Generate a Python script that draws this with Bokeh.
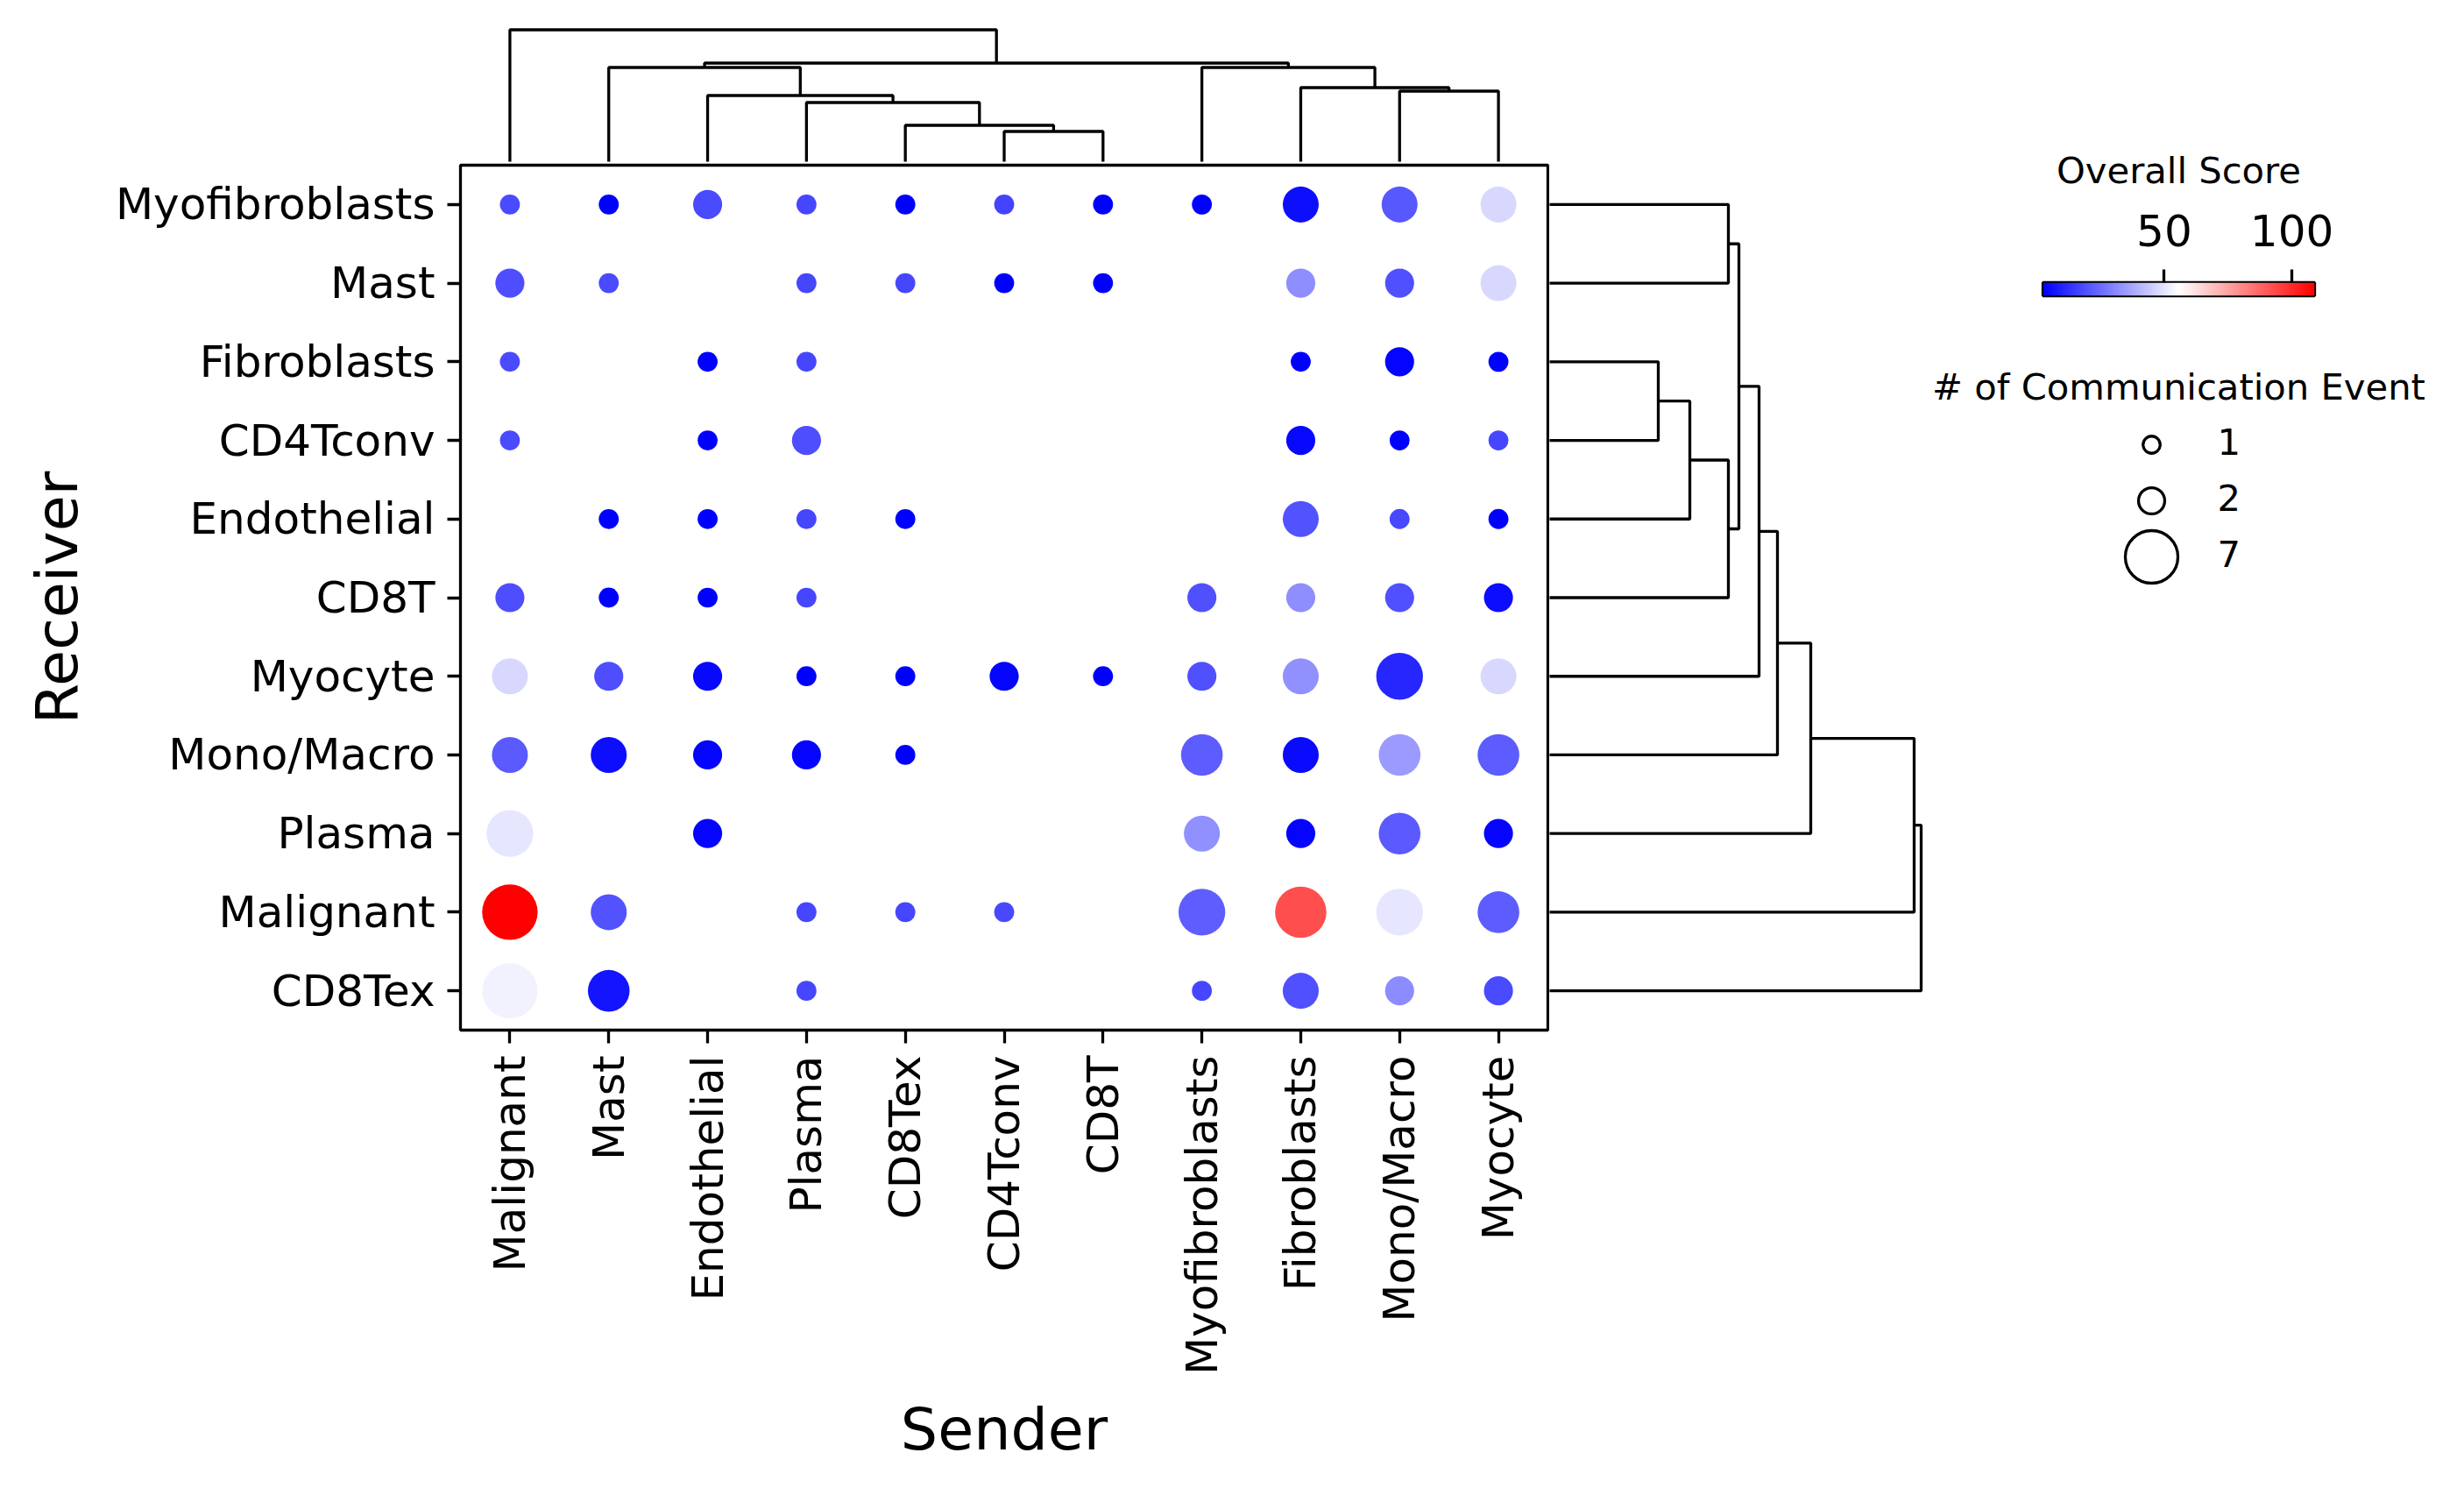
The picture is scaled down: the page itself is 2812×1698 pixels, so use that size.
import math
import numpy as np
from bokeh.plotting import figure
from bokeh.models import (ColumnDataSource, FactorRange, Range1d, LinearColorMapper,
                          LinearAxis, FixedTicker, Spacer)
from bokeh.core.properties import value
from bokeh.layouts import row, column
from bokeh.transform import transform
from bokeh.embed import file_html
from bokeh.resources import INLINE

FONT = "DejaVu Sans"

# ---------------- data ----------------
senders = ["Malignant", "Mast", "Endothelial", "Plasma", "CD8Tex", "CD4Tconv",
           "CD8T", "Myofibroblasts", "Fibroblasts", "Mono/Macro", "Myocyte"]
receivers = ["Myofibroblasts", "Mast", "Fibroblasts", "CD4Tconv", "Endothelial",
             "CD8T", "Myocyte", "Mono/Macro", "Plasma", "Malignant", "CD8Tex"]

# rows = receivers (top to bottom), columns = senders
overall_score = [
    [18.1, 2.5, 18.0, 17.1, 2.7, 17.0, 2.6, 2.8, 5.6, 20.9, 47.4],          # Myofibroblasts
    [18.8, 18.1, None, 17.1, 17.1, 2.6, 2.6, None, 32.3, 19.2, 47.4],       # Mast
    [18.1, None, 2.7, 17.1, None, None, None, None, 2.6, 3.5, 2.7],         # Fibroblasts
    [18.1, None, 2.6, 18.8, None, None, None, None, 4.2, 2.6, 17.1],        # CD4Tconv
    [None, 2.6, 2.6, 17.1, 2.6, None, None, None, 19.6, 17.5, 2.7],         # Endothelial
    [18.8, 2.6, 2.7, 17.1, None, None, None, 19.2, 32.3, 19.2, 5.0],        # CD8T
    [47.4, 18.8, 4.2, 2.6, 2.7, 3.5, 2.6, 19.2, 32.8, 10.4, 47.4],          # Myocyte
    [21.3, 5.6, 3.5, 3.5, 2.6, None, None, 21.7, 4.6, 34.8, 21.7],          # Mono/Macro
    [50.5, None, 3.5, None, None, None, None, 32.8, 3.5, 21.3, 3.5],        # Plasma
    [108.9, 19.6, None, 17.1, 17.1, 17.5, None, 22.3, 92.6, 50.5, 21.7],    # Malignant
    [53.0, 6.7, None, 17.1, None, None, None, 17.1, 19.2, 31.7, 18.1],      # CD8Tex
]
n_events = [
    [1, 1, 2, 1, 1, 1, 1, 1, 3, 3, 3],
    [2, 1, 0, 1, 1, 1, 1, 0, 2, 2, 3],
    [1, 0, 1, 1, 0, 0, 0, 0, 1, 2, 1],
    [1, 0, 1, 2, 0, 0, 0, 0, 2, 1, 1],
    [0, 1, 1, 1, 1, 0, 0, 0, 3, 1, 1],
    [2, 1, 1, 1, 0, 0, 0, 2, 2, 2, 2],
    [3, 2, 2, 1, 1, 2, 1, 2, 3, 5, 3],
    [3, 3, 2, 2, 1, 0, 0, 4, 3, 4, 4],
    [5, 0, 2, 0, 0, 0, 0, 3, 2, 4, 2],
    [7, 3, 0, 1, 1, 1, 0, 5, 6, 5, 4],
    [7, 4, 0, 1, 0, 0, 0, 1, 3, 2, 2],
]
legend_events = [1, 2, 7]
cbar_ticks = [50, 100]

# dendrogram merges: (child, child, height); ints refer to earlier merges
col_links = [
    ("CD4Tconv", "CD8T", 34.5),
    ("CD8Tex", 0, 41.5),
    ("Plasma", 1, 67.5),
    ("Endothelial", 2, 75.5),
    ("Mast", 3, 107.5),
    ("Mono/Macro", "Myocyte", 80.5),
    ("Fibroblasts", 5, 84.5),
    ("Myofibroblasts", 6, 107.5),
    (4, 7, 112.5),
    ("Malignant", 8, 150.5),
]
row_links = [
    ("Myofibroblasts", "Mast", 207),
    ("Fibroblasts", "CD4Tconv", 127),
    (1, "Endothelial", 163),
    (2, "CD8T", 207),
    (0, 3, 219),
    (4, "Myocyte", 242),
    (5, "Mono/Macro", 263),
    (6, "Plasma", 301),
    (7, "Malignant", 419),
    (8, "CD8Tex", 427),
]


# ---------------- helpers ----------------
def bwr_palette(n=256):
    pal = []
    for i in range(n):
        x = i / (n - 1)
        if x <= 0.5:
            c = int(round(2 * x * 255))
            pal.append("#%02x%02x%02x" % (c, c, 255))
        else:
            c = int(round((2 - 2 * x) * 255))
            pal.append("#%02x%02x%02x" % (255, c, c))
    return pal


def dot_diameter(n):
    return math.sqrt(582.0 * n - 62.0)


def dendro_segments(order, links, flip=False):
    m = len(order)
    pos = {}
    for k, name in enumerate(order):
        pos[name] = (m - k - 0.5) if flip else (k + 0.5)
    nodes = []
    xs, ys = [], []

    def get(c):
        return (pos[c], 0.0) if isinstance(c, str) else nodes[c]

    for a, b, h in links:
        pa, ha = get(a)
        pb, hb = get(b)
        xs.append([pa, pa, pb, pb])
        ys.append([ha, h, h, hb])
        nodes.append(((pa + pb) / 2.0, h))
    return xs, ys


vals = [v for r in overall_score for v in r if v is not None]
vmin, vmax = min(vals), max(vals)
mapper = LinearColorMapper(palette=bwr_palette(), low=vmin, high=vmax)

px, py, ps, pz = [], [], [], []
for i, rec in enumerate(receivers):
    for j, snd in enumerate(senders):
        v = overall_score[i][j]
        if v is None:
            continue
        px.append(snd)
        py.append(rec)
        ps.append(v)
        pz.append(dot_diameter(n_events[i][j]))
src = ColumnDataSource(dict(sender=px, receiver=py, score=ps, size=pz))

# ---------------- layout constants ----------------
LB = 517          # left border of main
FW = 1241         # frame width
FH = 987          # frame height
LW = 3.3

# ---------------- main dot plot ----------------
main = figure(width=LB + FW + 2, height=1490,
              x_range=FactorRange(*senders), y_range=FactorRange(*receivers[::-1]),
              min_border_left=LB, min_border_right=2, min_border_top=2,
              min_border_bottom=1490 - 2 - FH,
              output_backend="svg", toolbar_location=None)
main.scatter("sender", "receiver", size="size", source=src,
             fill_color=transform("score", mapper), line_color=None)
main.grid.grid_line_color = None
main.outline_line_color = "black"
main.outline_line_width = LW
main.outline_line_alpha = 1.0
for ax in (main.xaxis[0], main.yaxis[0]):
    ax.axis_line_color = None
    ax.major_tick_in = 0
    ax.major_tick_out = 15
    ax.major_tick_line_width = LW
    ax.major_tick_line_color = "black"
    ax.major_label_text_font = FONT
    ax.major_label_text_font_size = "50px"
    ax.major_label_text_color = "black"
    ax.major_label_standoff = 14
    ax.axis_label_text_font = FONT
    ax.axis_label_text_font_size = "66.7px"
    ax.axis_label_text_font_style = "normal"
    ax.axis_label_text_color = "black"
main.xaxis.major_label_orientation = math.pi / 2
main.xaxis.axis_label = "Sender"
main.yaxis.axis_label = "Receiver"
main.xaxis.axis_label_standoff = 20
main.yaxis.axis_label_standoff = 25

# ---------------- top dendrogram ----------------
top = figure(width=LB + FW + 2, height=178,
             x_range=Range1d(0, len(senders)), y_range=Range1d(-2, 156),
             min_border_left=LB, min_border_right=2, min_border_top=20, min_border_bottom=0,
             x_axis_location=None, y_axis_location=None,
             output_backend="svg", toolbar_location=None)
txs, tys = dendro_segments(senders, col_links)
top.multi_line(txs, tys, line_color="black", line_width=LW)
top.grid.visible = False
top.outline_line_color = None

# ---------------- right dendrogram ----------------
rd = figure(width=436, height=FH,
            x_range=Range1d(3, 439), y_range=Range1d(0, len(receivers)),
            min_border_left=0, min_border_right=0, min_border_top=0, min_border_bottom=0,
            x_axis_location=None, y_axis_location=None,
            output_backend="svg", toolbar_location=None)
rys, rxs = dendro_segments(receivers, row_links, flip=True)
rd.multi_line(rxs, rys, line_color="black", line_width=LW)
rd.grid.visible = False
rd.outline_line_color = None

# ---------------- colorbar ----------------
CB_L, CB_W, CB_R = 127, 310, 153
cb = figure(width=CB_L + CB_W + CB_R, height=344,
            x_range=Range1d(vmin, vmax), y_range=Range1d(0, 1),
            min_border_left=CB_L, min_border_right=CB_R, min_border_top=314, min_border_bottom=15,
            x_axis_location=None, y_axis_location=None,
            output_backend="svg", toolbar_location=None)
cb.image(image=[np.linspace(vmin, vmax, 256).reshape(1, 256)], x=vmin, y=0,
         dw=vmax - vmin, dh=1, color_mapper=mapper)
cb.grid.visible = False
cb.outline_line_color = "black"
cb.outline_line_width = LW
cax = LinearAxis(ticker=FixedTicker(ticks=cbar_ticks))
cax.axis_line_color = None
cax.major_tick_in = 0
cax.major_tick_out = 15
cax.minor_tick_line_color = None
cax.major_tick_line_width = LW
cax.major_tick_line_color = "black"
cax.major_label_text_font = FONT
cax.major_label_text_font_size = "50px"
cax.major_label_text_color = "black"
cax.major_label_standoff = 27
cax.axis_label = "Overall Score"
cax.axis_label_standoff = 23
cax.axis_label_text_font = FONT
cax.axis_label_text_font_size = "41.7px"
cax.axis_label_text_font_style = "normal"
cax.axis_label_text_color = "black"
cb.add_layout(cax, "above")

# ---------------- size legend ----------------
leg_labels = [str(n) for n in legend_events]
sl = figure(width=CB_L + CB_W + CB_R, height=332,
            x_range=Range1d(0, CB_W), y_range=FactorRange(*leg_labels[::-1]),
            min_border_left=CB_L, min_border_right=CB_R, min_border_top=123, min_border_bottom=17,
            x_axis_location=None, y_axis_location=None,
            output_backend="svg", toolbar_location=None)
sl.scatter(x=[124] * len(leg_labels), y=leg_labels,
           size=[dot_diameter(n) - LW for n in legend_events],
           fill_color=None, line_color="black", line_width=LW)
sl.text(x=[199] * len(leg_labels), y=leg_labels, text=leg_labels,
        text_font=value(FONT), text_font_size="41.7px", text_color="black",
        text_align="left", text_baseline="middle", y_offset=-4)
sl.grid.visible = False
sl.outline_line_color = None
lax = LinearAxis(ticker=FixedTicker(ticks=[]))
lax.axis_line_color = None
lax.major_tick_line_color = None
lax.minor_tick_line_color = None
lax.major_tick_out = 0
lax.major_tick_in = 0
lax.major_label_standoff = 0
lax.major_label_text_font_size = "1px"
lax.axis_label = "# of Communication Event"
lax.axis_label_standoff = 10
lax.axis_label_text_font = FONT
lax.axis_label_text_font_size = "41.7px"
lax.axis_label_text_font_style = "normal"
lax.axis_label_text_color = "black"
sl.add_layout(lax, "above")

layout = row(column(top, main),
             column(Spacer(width=436, height=180), rd),
             column(cb, sl))
page = column(Spacer(width=10, height=8), row(Spacer(width=8, height=10), layout))

open("out.html", "w").write(file_html(page, INLINE))
